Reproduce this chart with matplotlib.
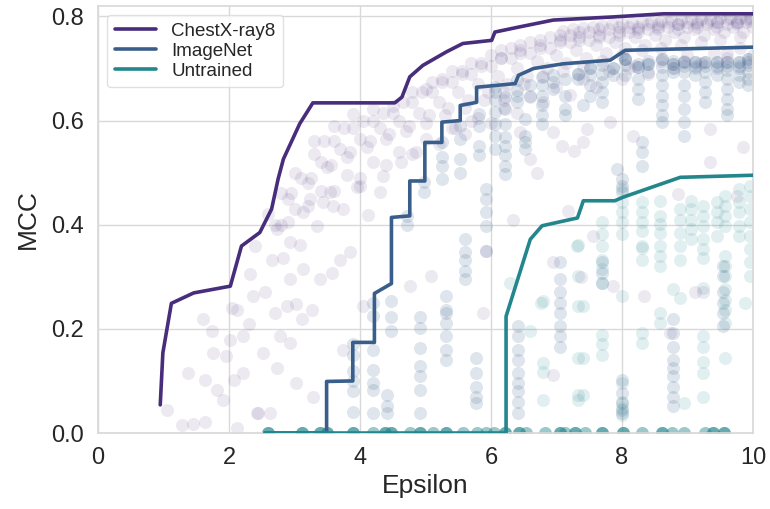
import matplotlib
matplotlib.use("Agg")
import matplotlib.pyplot as plt
import seaborn as sns

sns.set_theme(style="whitegrid")
plt.rcParams['font.family'] = ['Liberation Sans', 'DejaVu Sans']

# ---------------- data ----------------
series_names = ["ChestX-ray8", "ImageNet", "Untrained"]
series_colors = ["#472d7b", "#3a5e8c", "#23868d"]

# Pareto-front lines
chest_line_x = [0.95, 0.99, 1.12, 1.46, 2.02, 2.19, 2.47, 2.65, 2.75, 2.83, 3.08, 3.28, 4.53, 4.64,
                4.76, 4.96, 5.32, 5.57, 6.01, 6.06, 6.44, 6.95, 7.86, 8.63, 10.0]
chest_line_y = [0.054, 0.154, 0.249, 0.269, 0.282, 0.359, 0.385, 0.430, 0.488, 0.526, 0.594, 0.634, 0.634, 0.645,
                0.684, 0.706, 0.732, 0.748, 0.754, 0.770, 0.780, 0.793, 0.799, 0.805, 0.805]

imagenet_line_x = [2.55, 3.49, 3.49, 3.89, 3.89, 4.22, 4.22, 4.48, 4.48, 4.76, 4.76, 4.99, 4.99, 5.25, 5.25,
                   5.53, 5.53, 5.78, 5.78, 6.37, 6.42, 6.65, 7.10, 7.82, 8.05, 10.0]
imagenet_line_y = [0.0, 0.0, 0.099, 0.100, 0.174, 0.174, 0.268, 0.287, 0.414, 0.417, 0.484, 0.484, 0.558, 0.558, 0.597,
                   0.600, 0.629, 0.635, 0.664, 0.671, 0.687, 0.700, 0.709, 0.716, 0.735, 0.741]

untrained_line_x = [2.55, 6.23, 6.23, 6.60, 6.78, 7.32, 7.41, 7.89, 8.02, 8.89, 10.0]
untrained_line_y = [0.0, 0.0, 0.224, 0.372, 0.398, 0.413, 0.446, 0.446, 0.453, 0.491, 0.495]

# ChestX-ray8 runs (bands of points)
chest_b1_x = [3.3, 3.6, 3.9, 4.2, 4.5, 4.8, 5.1, 5.4, 5.7, 6.0, 6.3, 6.6, 6.9, 7.2, 7.5, 7.8, 8.1, 8.4, 8.7, 9.0, 9.3, 9.6, 9.9]
chest_b1_y = [0.56, 0.59, 0.612, 0.622, 0.628, 0.655, 0.675, 0.695, 0.71, 0.725, 0.74, 0.75, 0.76, 0.765, 0.77, 0.775, 0.78, 0.785, 0.79, 0.79, 0.79, 0.795, 0.795]
chest_b2_x = [3.0, 3.3, 3.6, 3.9, 4.2, 4.5, 4.8, 5.1, 5.4, 5.7, 6.0, 6.3, 6.6, 6.9, 7.2, 7.5, 7.8, 8.1, 8.4, 8.7, 9.0, 9.3, 9.6, 9.9]
chest_b2_y = [0.50, 0.535, 0.56, 0.585, 0.60, 0.615, 0.635, 0.655, 0.675, 0.69, 0.705, 0.72, 0.73, 0.74, 0.75, 0.755, 0.76, 0.77, 0.775, 0.78, 0.78, 0.785, 0.785, 0.79]
chest_b3_x = [2.8, 3.1, 3.4, 3.7, 4.0, 4.3, 4.6, 4.9, 5.2, 5.5, 5.8, 6.1, 6.4, 6.7, 7.0, 7.3, 7.6, 7.9, 8.2, 8.5, 8.8, 9.1, 9.4, 9.7, 10.0]
chest_b3_y = [0.46, 0.49, 0.52, 0.545, 0.565, 0.585, 0.60, 0.615, 0.635, 0.655, 0.67, 0.685, 0.70, 0.715, 0.725, 0.735, 0.745, 0.75, 0.76, 0.765, 0.77, 0.775, 0.775, 0.78, 0.78]
chest_b4_x = [2.6, 2.9, 3.2, 3.5, 3.8, 4.1, 4.4, 4.7, 5.0, 5.3, 5.6, 5.9, 6.2, 6.5, 6.8, 7.1, 7.4, 7.7, 8.0, 8.3, 8.6, 8.9, 9.2, 9.5, 9.8]
chest_b4_y = [0.42, 0.45, 0.48, 0.51, 0.53, 0.55, 0.565, 0.58, 0.595, 0.61, 0.625, 0.64, 0.655, 0.67, 0.685, 0.695, 0.705, 0.715, 0.725, 0.735, 0.74, 0.745, 0.75, 0.755, 0.76]
chest_b5_x = [2.4, 2.8, 3.2, 3.6, 4.0, 4.4, 4.8, 5.2, 5.6, 6.0, 6.4, 6.8, 7.2, 7.6, 8.0, 8.4, 8.8, 9.2, 9.6, 10.0]
chest_b5_y = [0.36, 0.40, 0.435, 0.465, 0.49, 0.515, 0.535, 0.555, 0.575, 0.595, 0.615, 0.635, 0.65, 0.665, 0.68, 0.69, 0.70, 0.71, 0.72, 0.725]
chest_b6_x = [6.15, 6.45, 6.75, 7.05, 7.35, 7.65, 7.95, 8.25, 8.55, 8.85, 9.15, 9.45, 9.75, 9.95]
chest_b6_y = [0.735, 0.745, 0.755, 0.765, 0.77, 0.775, 0.78, 0.78, 0.785, 0.785, 0.79, 0.79, 0.79, 0.792]
chest_b7_x = [5.0, 5.25, 5.55, 5.85, 6.15, 6.45, 6.75, 7.05, 7.35, 7.65, 7.95, 8.25, 8.55, 8.85, 9.15, 9.45, 9.75]
chest_b7_y = [0.66, 0.68, 0.695, 0.71, 0.72, 0.73, 0.74, 0.75, 0.755, 0.76, 0.765, 0.77, 0.775, 0.775, 0.78, 0.78, 0.785]
chest_b8_x = [3.45, 3.75, 4.05, 4.35, 4.65, 4.95, 5.25, 5.55, 5.85, 6.15, 6.45, 6.75, 7.05, 7.35, 7.65, 7.95, 8.25, 8.55, 8.85, 9.15, 9.45, 9.75]
chest_b8_y = [0.56, 0.585, 0.60, 0.615, 0.635, 0.655, 0.675, 0.69, 0.705, 0.72, 0.735, 0.745, 0.755, 0.76, 0.765, 0.77, 0.775, 0.78, 0.785, 0.785, 0.79, 0.79]
chest_b9_x = [2.95, 3.25, 3.55, 3.85, 4.15, 4.45, 4.75, 5.05, 5.35, 5.65, 5.95, 6.25, 6.55, 6.85, 7.15, 7.45, 7.75, 8.05, 8.35, 8.65, 8.95, 9.25, 9.55, 9.85]
chest_b9_y = [0.46, 0.49, 0.515, 0.54, 0.56, 0.575, 0.59, 0.61, 0.625, 0.64, 0.655, 0.67, 0.685, 0.70, 0.71, 0.72, 0.73, 0.74, 0.745, 0.755, 0.76, 0.765, 0.77, 0.77]
chest_b10_x = [2.7, 3.0, 3.4, 3.8, 4.2, 4.6, 5.0, 5.4, 5.8, 6.2, 6.6, 7.0, 7.4, 7.8, 8.2, 8.6, 9.0, 9.4, 9.8]
chest_b10_y = [0.40, 0.43, 0.465, 0.495, 0.52, 0.54, 0.565, 0.585, 0.605, 0.625, 0.645, 0.665, 0.68, 0.695, 0.705, 0.715, 0.725, 0.73, 0.74]
chest_b11_x = [7.1, 7.25, 7.4, 7.55, 7.7, 7.85, 8.0, 8.15, 8.3, 8.45, 8.6, 8.75, 8.9, 9.05, 9.2, 9.35, 9.5, 9.65, 9.8, 9.95]
chest_b11_y = [0.772, 0.775, 0.778, 0.78, 0.782, 0.785, 0.787, 0.788, 0.79, 0.79, 0.792, 0.793, 0.793, 0.795, 0.795, 0.795, 0.797, 0.797, 0.797, 0.797]
chest_sc_x = [1.05, 1.38, 1.61, 1.74, 1.63, 1.76, 1.81, 1.91, 2.02, 2.12, 2.22, 2.32, 2.37, 2.07, 1.96, 2.52, 2.42, 2.63,
              2.73, 2.78, 2.93, 3.03, 3.28, 2.70, 2.88, 3.03, 3.11, 3.26, 2.93, 3.13, 3.39, 3.57, 2.65, 2.83, 2.93, 3.08,
              2.73, 2.90, 3.13, 3.34, 3.24, 3.44, 3.54, 3.74, 3.85, 3.69, 3.74, 4.05, 4.12, 3.95, 4.30, 5.09, 4.76, 2.45,
              2.22, 5.88, 5.93, 1.28, 1.45, 1.63, 2.12, 7.46, 7.82, 8.17, 9.34, 9.85, 9.34, 7.08, 7.26, 6.95, 6.60, 6.70,
              6.44, 7.41, 6.34, 7.18, 7.56, 7.87, 8.33, 8.86, 9.24, 9.75, 6.95, 7.38, 8.73, 9.11, 6.95, 4.0, 4.35, 3.59,
              4.62, 4.85, 5.45, 5.70, 6.20, 8.10, 8.95, 9.60, 2.55, 2.30, 2.05]
chest_sc_y = [0.044, 0.115, 0.218, 0.195, 0.102, 0.154, 0.083, 0.064, 0.179, 0.237, 0.186, 0.305, 0.263, 0.102, 0.147, 0.154, 0.038, 0.038,
              0.125, 0.186, 0.173, 0.096, 0.070, 0.231, 0.244, 0.247, 0.218, 0.237, 0.295, 0.314, 0.295, 0.308, 0.333, 0.337, 0.366, 0.362,
              0.391, 0.405, 0.424, 0.398, 0.449, 0.443, 0.462, 0.430, 0.347, 0.333, 0.160, 0.244, 0.418, 0.472, 0.462, 0.301, 0.282, 0.038,
              0.115, 0.231, 0.350, 0.015, 0.018, 0.022, 0.010, 0.584, 0.597, 0.571, 0.584, 0.549, 0.520, 0.552, 0.542, 0.578, 0.526, 0.500,
              0.578, 0.559, 0.410, 0.427, 0.379, 0.282, 0.263, 0.459, 0.270, 0.456, 0.328, 0.299, 0.193, 0.270, 0.112, 0.475, 0.494, 0.436,
              0.520, 0.540, 0.585, 0.600, 0.640, 0.700, 0.715, 0.730, 0.270, 0.210, 0.240]

# ImageNet runs: (epsilon, [MCC values])
imagenet_cols = [
    (3.89, [0.04, 0.08, 0.10, 0.12, 0.15, 0.17]),
    (4.20, [0.038, 0.083, 0.096, 0.121, 0.16, 0.224, 0.25]),
    (4.41, [0.038, 0.051, 0.073]),
    (4.48, [0.195, 0.222, 0.253]),
    (4.71, [0.40, 0.417]),
    (4.92, [0.038, 0.083, 0.109, 0.128, 0.164, 0.202, 0.222]),
    (4.97, [0.462, 0.482]),
    (5.25, [0.488, 0.513, 0.53, 0.559]),
    (5.31, [0.141, 0.16, 0.186, 0.212, 0.231, 0.237, 0.263]),
    (5.53, [0.50, 0.526, 0.565, 0.59]),
    (5.60, [0.295, 0.311, 0.333, 0.347, 0.372]),
    (5.77, [0.058, 0.07, 0.089, 0.115, 0.145]),
    (5.81, [0.533, 0.552, 0.59, 0.613]),
    (5.93, [0.35, 0.398, 0.424, 0.449, 0.468]),
    (6.06, [0.546, 0.571, 0.594, 0.616, 0.639, 0.655, 0.664]),
    (6.21, [0.497, 0.513, 0.533, 0.552, 0.568, 0.594, 0.623, 0.645]),
    (6.39, [0.635, 0.648, 0.658, 0.677]),
    (6.41, [0.038, 0.06, 0.08, 0.096, 0.115, 0.141, 0.16, 0.186, 0.205]),
    (6.52, [0.546, 0.558, 0.571, 0.603]),
    (6.60, [0.648, 0.668]),
    (6.78, [0.594, 0.61, 0.629, 0.648, 0.668, 0.684]),
    (6.95, [0.661, 0.674, 0.687]),
    (7.05, [0.166, 0.186, 0.205, 0.231, 0.25, 0.27, 0.295, 0.328]),
    (7.13, [0.61, 0.623, 0.648, 0.68]),
    (7.33, [0.68, 0.69, 0.69]),
    (7.41, [0.629]),
    (7.51, [0.648, 0.668, 0.687, 0.70, 0.70]),
    (7.69, [0.635, 0.655, 0.674, 0.69, 0.706]),
    (7.69, [0.289, 0.308, 0.328]),
    (7.87, [0.687, 0.70, 0.70]),
    (7.92, [0.507]),
    (8.0, [0.038, 0.044, 0.058, 0.077, 0.102, 0.462, 0.475, 0.488]),
    (8.05, [0.687, 0.706, 0.719, 0.719, 0.719]),
    (8.25, [0.642, 0.661, 0.68, 0.703, 0.703, 0.709]),
    (8.30, [0.513, 0.539, 0.558]),
    (8.40, [0.693, 0.709, 0.709, 0.715]),
    (8.61, [0.597, 0.61, 0.629, 0.648, 0.668, 0.687, 0.703, 0.719, 0.719]),
    (8.78, [0.051, 0.07, 0.089, 0.109, 0.125, 0.141, 0.166, 0.193, 0.218]),
    (8.78, [0.693, 0.70, 0.709, 0.709, 0.715]),
    (8.94, [0.571, 0.597, 0.623, 0.648, 0.668, 0.693, 0.713, 0.713, 0.705]),
    (9.11, [0.687, 0.70, 0.713, 0.713, 0.705]),
    (9.27, [0.635, 0.655, 0.674, 0.693, 0.713, 0.713, 0.705]),
    (9.45, [0.687, 0.70, 0.713, 0.713, 0.705]),
    (9.54, [0.205, 0.231, 0.25, 0.27, 0.301, 0.321]),
    (9.60, [0.61, 0.623, 0.642, 0.661, 0.68, 0.697, 0.713, 0.713, 0.705]),
    (9.78, [0.674, 0.687, 0.70, 0.713, 0.713, 0.705]),
    (9.93, [0.668, 0.68, 0.693, 0.706, 0.719, 0.719, 0.712]),
]

# Untrained runs: (epsilon, [MCC values])
untrained_cols = [
    (6.29, [0.289]),
    (6.60, [0.195]),
    (6.77, [0.25]),
    (6.80, [0.064, 0.118, 0.135, 0.253]),
    (7.31, [0.359]),
    (7.33, [0.064, 0.073, 0.145, 0.244, 0.301, 0.362]),
    (7.41, [0.073, 0.145, 0.244]),
    (7.69, [0.15, 0.17, 0.189, 0.289, 0.314, 0.333, 0.359, 0.382, 0.405]),
    (8.0, [0.035, 0.048, 0.06, 0.096, 0.263, 0.382, 0.405, 0.424, 0.443, 0.468]),
    (8.30, [0.173, 0.193, 0.333, 0.356, 0.359, 0.388, 0.405, 0.424, 0.443]),
    (8.58, [0.212, 0.231, 0.321, 0.34, 0.359, 0.385, 0.401, 0.417, 0.446]),
    (8.78, [0.276]),
    (8.89, [0.26, 0.333, 0.359, 0.385, 0.41, 0.43]),
    (8.94, [0.058]),
    (9.06, [0.372, 0.391, 0.41, 0.43, 0.446]),
    (9.24, [0.07, 0.115, 0.137, 0.166, 0.186, 0.279, 0.337, 0.353, 0.372, 0.398, 0.417, 0.436]),
    (9.45, [0.378, 0.405, 0.424, 0.443]),
    (9.57, [0.145, 0.212, 0.237, 0.256, 0.276, 0.301, 0.321, 0.34, 0.398, 0.417, 0.436, 0.456]),
    (9.78, [0.378, 0.398, 0.424, 0.443, 0.468]),
    (9.88, [0.25]),
    (9.96, [0.301, 0.328, 0.353, 0.378, 0.405, 0.43, 0.456, 0.475]),
]

# runs that reached MCC = 0
zero_eps = [2.60, 2.60, 3.11, 3.11, 3.39, 3.39, 3.49, 3.49, 3.90, 3.90, 4.20, 4.38, 4.38, 4.48, 4.48, 4.76, 4.92, 4.92,
            5.12, 5.32, 5.32, 5.58, 5.78, 5.93, 6.04, 6.21, 6.21, 6.42, 6.42, 6.54, 6.82, 7.05, 7.05, 7.13, 7.28, 7.28,
            7.44, 7.69, 7.69, 8.02, 8.02, 8.30, 8.61, 8.61, 8.76, 8.94, 9.27, 9.39, 9.39, 9.55, 9.55]

# ---------------- plot ----------------
fig = plt.figure(figsize=(7.7, 5.09), dpi=100)
ax = fig.add_axes([0.1273, 0.1493, 0.8506, 0.8389])

S = 88
chest_x = (chest_b1_x + chest_b2_x + chest_b3_x + chest_b4_x + chest_b5_x + chest_b6_x + chest_b7_x
           + chest_b8_x + chest_b9_x + chest_b10_x + chest_b11_x + chest_sc_x)
chest_y = (chest_b1_y + chest_b2_y + chest_b3_y + chest_b4_y + chest_b5_y + chest_b6_y + chest_b7_y
           + chest_b8_y + chest_b9_y + chest_b10_y + chest_b11_y + chest_sc_y)
ax.scatter(chest_x, chest_y, s=S, color=series_colors[0], alpha=0.10, linewidths=0, zorder=2)

im_x = [c[0] for c in imagenet_cols for _ in c[1]]
im_y = [v for c in imagenet_cols for v in c[1]]
ax.scatter(im_x, im_y, s=S, color=series_colors[1], alpha=0.16, linewidths=0, zorder=2)

un_x = [c[0] for c in untrained_cols for _ in c[1]]
un_y = [v for c in untrained_cols for v in c[1]]
ax.scatter(un_x, un_y, s=S, color=series_colors[2], alpha=0.13, linewidths=0, zorder=2)

ax.scatter(zero_eps, [0.0] * len(zero_eps), s=S, color=series_colors[2], alpha=0.45,
           linewidths=0, zorder=2, clip_on=True)

ax.plot(chest_line_x, chest_line_y, color=series_colors[0], lw=2.6, zorder=4, label=series_names[0])
ax.plot(imagenet_line_x, imagenet_line_y, color=series_colors[1], lw=2.6, zorder=4, label=series_names[1])
ax.plot(untrained_line_x, untrained_line_y, color=series_colors[2], lw=2.6, zorder=4, label=series_names[2])

ax.set_xlim(0, 10)
ax.set_ylim(0, 0.82)
ax.set_xticks([0, 2, 4, 6, 8, 10])
ax.set_yticks([0.0, 0.2, 0.4, 0.6, 0.8])
ax.set_yticklabels(["0.0", "0.2", "0.4", "0.6", "0.8"])
ax.tick_params(axis='both', labelsize=17, colors='.15', pad=4)
ax.set_xlabel("Epsilon", fontsize=19, color='.15', labelpad=4)
ax.set_ylabel("MCC", fontsize=19, color='.15', labelpad=8)
ax.grid(True, color='.85', lw=1.0)
for sp in ax.spines.values():
    sp.set_color('.85')

leg = ax.legend(loc='upper left', fontsize=13.5, frameon=True, handlelength=2.2,
                borderaxespad=0.5, labelspacing=0.15)
leg.get_frame().set_edgecolor('.85')

fig.savefig("out.png", dpi=100)
